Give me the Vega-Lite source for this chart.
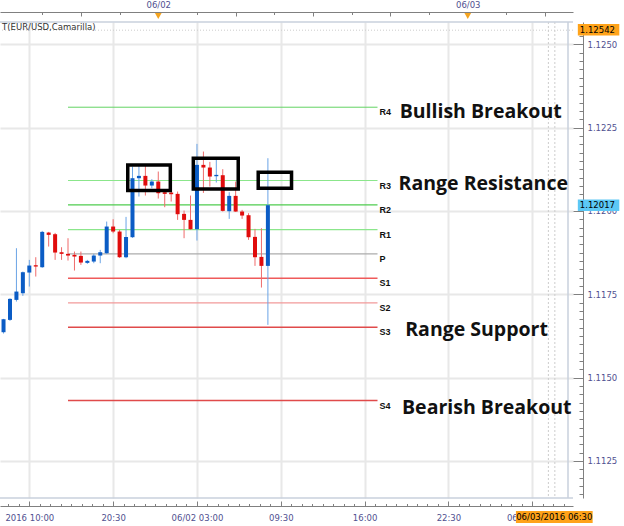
{
  "$schema": "https://vega.github.io/schema/vega-lite/v6.json",
  "width": 573,
  "height": 476,
  "autosize": {"type": "none"},
  "padding": {"left": 0, "top": 22, "right": 51, "bottom": 28},
  "background": "white",
  "config": {
    "view": {"stroke": null},
    "axis": {"labelFont": "DejaVu Sans", "labelFontSize": 8.5, "labelColor": "#505090", "domainColor": "#808080", "tickColor": "#808080", "labelOverlap": false, "labelFlush": false}
  },
  "resolve": {"axis": {"x": "independent", "y": "independent"}},
  "datasets": {
    "candles": [
      {"t": "2016-06-01T12:00:00Z", "o": 1.11636, "h": 1.11676, "l": 1.11632, "c": 1.11675},
      {"t": "2016-06-01T12:30:00Z", "o": 1.11673, "h": 1.11738, "l": 1.11670, "c": 1.11736},
      {"t": "2016-06-01T13:00:00Z", "o": 1.11733, "h": 1.11888, "l": 1.11728, "c": 1.11758},
      {"t": "2016-06-01T13:30:00Z", "o": 1.11753, "h": 1.11818, "l": 1.11745, "c": 1.11816},
      {"t": "2016-06-01T14:00:00Z", "o": 1.11815, "h": 1.11853, "l": 1.11773, "c": 1.11836},
      {"t": "2016-06-01T14:30:00Z", "o": 1.11837, "h": 1.11861, "l": 1.11803, "c": 1.11833},
      {"t": "2016-06-01T15:00:00Z", "o": 1.11831, "h": 1.11940, "l": 1.11829, "c": 1.11937},
      {"t": "2016-06-01T15:30:00Z", "o": 1.11935, "h": 1.11937, "l": 1.11893, "c": 1.11928},
      {"t": "2016-06-01T16:00:00Z", "o": 1.11930, "h": 1.11934, "l": 1.11853, "c": 1.11875},
      {"t": "2016-06-01T16:30:00Z", "o": 1.11876, "h": 1.11891, "l": 1.11853, "c": 1.11871},
      {"t": "2016-06-01T17:00:00Z", "o": 1.11871, "h": 1.11918, "l": 1.11851, "c": 1.11866},
      {"t": "2016-06-01T17:30:00Z", "o": 1.11868, "h": 1.11878, "l": 1.11821, "c": 1.11863},
      {"t": "2016-06-01T18:00:00Z", "o": 1.11865, "h": 1.11878, "l": 1.11838, "c": 1.11845},
      {"t": "2016-06-01T18:30:00Z", "o": 1.11844, "h": 1.11853, "l": 1.11841, "c": 1.11850},
      {"t": "2016-06-01T19:00:00Z", "o": 1.11848, "h": 1.11871, "l": 1.11843, "c": 1.11866},
      {"t": "2016-06-01T19:30:00Z", "o": 1.11866, "h": 1.11883, "l": 1.11843, "c": 1.11876},
      {"t": "2016-06-01T20:00:00Z", "o": 1.11873, "h": 1.11968, "l": 1.11871, "c": 1.11953},
      {"t": "2016-06-01T20:30:00Z", "o": 1.11953, "h": 1.11975, "l": 1.11933, "c": 1.11938},
      {"t": "2016-06-01T21:00:00Z", "o": 1.11938, "h": 1.11943, "l": 1.11859, "c": 1.11861},
      {"t": "2016-06-01T21:30:00Z", "o": 1.11861, "h": 1.11982, "l": 1.11858, "c": 1.11922},
      {"t": "2016-06-01T22:00:00Z", "o": 1.11921, "h": 1.12133, "l": 1.11919, "c": 1.12098},
      {"t": "2016-06-01T22:30:00Z", "o": 1.12098, "h": 1.12135, "l": 1.12043, "c": 1.12105},
      {"t": "2016-06-01T23:00:00Z", "o": 1.12105, "h": 1.12135, "l": 1.12046, "c": 1.12076},
      {"t": "2016-06-01T23:30:00Z", "o": 1.12076, "h": 1.12095, "l": 1.12068, "c": 1.12088},
      {"t": "2016-06-02T00:00:00Z", "o": 1.12088, "h": 1.12118, "l": 1.12037, "c": 1.12053},
      {"t": "2016-06-02T00:30:00Z", "o": 1.12056, "h": 1.12063, "l": 1.12011, "c": 1.12051},
      {"t": "2016-06-02T01:00:00Z", "o": 1.12055, "h": 1.12058, "l": 1.12028, "c": 1.12050},
      {"t": "2016-06-02T01:30:00Z", "o": 1.12051, "h": 1.12058, "l": 1.11973, "c": 1.11990},
      {"t": "2016-06-02T02:00:00Z", "o": 1.11991, "h": 1.12001, "l": 1.11918, "c": 1.11973},
      {"t": "2016-06-02T02:30:00Z", "o": 1.11973, "h": 1.12046, "l": 1.11943, "c": 1.11945},
      {"t": "2016-06-02T03:00:00Z", "o": 1.11945, "h": 1.12201, "l": 1.11911, "c": 1.12138},
      {"t": "2016-06-02T03:30:00Z", "o": 1.12138, "h": 1.12178, "l": 1.12054, "c": 1.12130},
      {"t": "2016-06-02T04:00:00Z", "o": 1.12130, "h": 1.12147, "l": 1.12073, "c": 1.12103},
      {"t": "2016-06-02T04:30:00Z", "o": 1.12104, "h": 1.12153, "l": 1.12085, "c": 1.12108},
      {"t": "2016-06-02T05:00:00Z", "o": 1.12107, "h": 1.12125, "l": 1.11998, "c": 1.12000},
      {"t": "2016-06-02T05:30:00Z", "o": 1.11999, "h": 1.12056, "l": 1.11976, "c": 1.12045},
      {"t": "2016-06-02T06:00:00Z", "o": 1.12045, "h": 1.12088, "l": 1.11997, "c": 1.11998},
      {"t": "2016-06-02T06:30:00Z", "o": 1.11998, "h": 1.12003, "l": 1.11976, "c": 1.11986},
      {"t": "2016-06-02T07:00:00Z", "o": 1.11987, "h": 1.11993, "l": 1.11913, "c": 1.11921},
      {"t": "2016-06-02T07:30:00Z", "o": 1.11922, "h": 1.11946, "l": 1.11835, "c": 1.11861},
      {"t": "2016-06-02T08:00:00Z", "o": 1.11862, "h": 1.11948, "l": 1.11770, "c": 1.11835},
      {"t": "2016-06-02T08:30:00Z", "o": 1.11835, "h": 1.12158, "l": 1.11658, "c": 1.12017}
    ],
    "pivots": [
      {"level": "R4", "p": 1.12311, "t1": "2016-06-01T17:00:00Z", "t2": "2016-06-02T17:00:00Z"},
      {"level": "R3", "p": 1.12091, "t1": "2016-06-01T17:00:00Z", "t2": "2016-06-02T17:00:00Z"},
      {"level": "R2", "p": 1.12018, "t1": "2016-06-01T17:00:00Z", "t2": "2016-06-02T17:00:00Z"},
      {"level": "R1", "p": 1.11944, "t1": "2016-06-01T17:00:00Z", "t2": "2016-06-02T17:00:00Z"},
      {"level": "P", "p": 1.11871, "t1": "2016-06-01T17:00:00Z", "t2": "2016-06-02T17:00:00Z"},
      {"level": "S1", "p": 1.11798, "t1": "2016-06-01T17:00:00Z", "t2": "2016-06-02T17:00:00Z"},
      {"level": "S2", "p": 1.11724, "t1": "2016-06-01T17:00:00Z", "t2": "2016-06-02T17:00:00Z"},
      {"level": "S3", "p": 1.11651, "t1": "2016-06-01T17:00:00Z", "t2": "2016-06-02T17:00:00Z"},
      {"level": "S4", "p": 1.11431, "t1": "2016-06-01T17:00:00Z", "t2": "2016-06-02T17:00:00Z"}
    ]
  },
  "layer": [
    {
      "data": {"values": [{"p": 1.12542}]},
      "mark": {"type": "rule", "color": "#cccccc", "strokeDash": [1, 2], "strokeWidth": 1},
      "encoding": {
        "y": {"field": "p", "type": "quantitative", "scale": {"domain": [1.111387, 1.125666], "zero": false, "nice": false}, "axis": null}
      }
    },
    {
      "data": {"values": [{"t": "2016-06-03T06:15:00Z"}, {"t": "2016-06-03T06:45:00Z"}]},
      "mark": {"type": "rule", "color": "#cccccc", "strokeDash": [2, 2], "strokeWidth": 1},
      "encoding": {
        "x": {"field": "t", "type": "temporal", "scale": {"type": "utc", "domain": [1464782811000, 1464939977000]}, "axis": null}
      }
    },
    {
      "data": {"values": [{"p": 1.125666}, {"p": 1.111387}]},
      "mark": {"type": "rule", "color": "#c8d0dc", "strokeWidth": 1.5},
      "encoding": {
        "y": {"field": "p", "type": "quantitative", "scale": {"domain": [1.111387, 1.125666], "zero": false, "nice": false}, "axis": null}
      }
    },
    {
      "data": {"values": [{"t": 1464939977000}]},
      "mark": {"type": "rule", "color": "#c8d0dc", "strokeWidth": 1.5},
      "encoding": {
        "x": {"field": "t", "type": "temporal", "scale": {"type": "utc", "domain": [1464782811000, 1464939977000]}, "axis": null}
      }
    },
    {
      "data": {"name": "pivots"},
      "mark": {"type": "rule"},
      "encoding": {
        "x": {"field": "t1", "type": "temporal", "scale": {"type": "utc", "domain": [1464782811000, 1464939977000]}, "axis": null},
        "x2": {"field": "t2"},
        "y": {"field": "p", "type": "quantitative", "scale": {"domain": [1.111387, 1.125666], "zero": false, "nice": false}, "axis": null},
        "color": {"field": "level", "type": "nominal", "legend": null,
          "scale": {"domain": ["R4", "R3", "R2", "R1", "P", "S1", "S2", "S3", "S4"],
                    "range": ["#62d462", "#8be68b", "#4fcc4f", "#8be68b", "#acacac", "#ef5a5a", "#f29a9a", "#e04a4a", "#e04a4a"]}},
        "strokeWidth": {"field": "level", "type": "ordinal", "legend": null,
          "scale": {"domain": ["R4", "R3", "R2", "R1", "P", "S1", "S2", "S3", "S4"],
                    "range": [1, 1.6, 1, 1.6, 1.4, 1, 1.6, 1, 1]}}
      }
    },
    {
      "data": {"name": "candles"},
      "mark": {"type": "rule", "strokeWidth": 1},
      "encoding": {
        "x": {"field": "t", "type": "temporal", "scale": {"type": "utc", "domain": [1464782811000, 1464939977000]},
          "axis": {"orient": "bottom", "offset": 8, "title": null,
            "values": [1464789600000, 1464813000000, 1464836400000, 1464859800000, 1464883200000, 1464906600000, 1464930000000],
            "labelExpr": "datum.value < 1464790000000 ? '2016 10:00' : ((utchours(datum.value) == 3 || datum.value > 1464920000000) ? utcFormat(datum.value, '%m/%d %H:%M') : utcFormat(datum.value, '%H:%M'))",
            "tickSize": -5, "labelPadding": 12, "grid": true, "gridColor": "#e8e8e8", "gridWidth": 2}},
        "y": {"field": "l", "type": "quantitative", "scale": {"domain": [1.111387, 1.125666], "zero": false, "nice": false},
          "axis": {"orient": "right", "offset": 10, "title": null,
            "values": [1.1125, 1.115, 1.1175, 1.12, 1.1225, 1.125], "format": ".4f",
            "tickSize": -10, "labelPadding": 14, "labelBaseline": "middle", "grid": true, "gridColor": "#e8e8e8", "gridWidth": 2}},
        "y2": {"field": "h"},
        "color": {"condition": {"test": "datum.c >= datum.o", "value": "#6aa4e6"}, "value": "#ef6b6b"}
      }
    },
    {
      "data": {"name": "candles"},
      "mark": {"type": "bar", "size": 4},
      "encoding": {
        "x": {"field": "t", "type": "temporal", "scale": {"type": "utc", "domain": [1464782811000, 1464939977000]},
          "axis": {"orient": "bottom", "offset": 8, "title": null, "labels": false, "domain": false, "grid": false, "tickSize": -2.5,
            "values": [1464783750000, 1464786675000, 1464789600000, 1464792525000, 1464795450000, 1464798375000, 1464801300000, 1464804225000, 1464807150000, 1464810075000, 1464813000000, 1464815925000, 1464818850000, 1464821775000, 1464824700000, 1464827625000, 1464830550000, 1464833475000, 1464836400000, 1464839325000, 1464842250000, 1464845175000, 1464848100000, 1464851025000, 1464853950000, 1464856875000, 1464859800000, 1464862725000, 1464865650000, 1464868575000, 1464871500000, 1464874425000, 1464877350000, 1464880275000, 1464883200000, 1464886125000, 1464889050000, 1464891975000, 1464894900000, 1464897825000, 1464900750000, 1464903675000, 1464906600000, 1464909525000, 1464912450000, 1464915375000, 1464918300000, 1464921225000, 1464924150000, 1464927075000, 1464930000000, 1464932925000, 1464935850000, 1464938775000]}},
        "y": {"field": "o", "type": "quantitative", "scale": {"domain": [1.111387, 1.125666], "zero": false, "nice": false},
          "axis": {"orient": "right", "offset": 10, "title": null, "labels": false, "domain": false, "grid": false, "tickSize": -4,
            "values": [1.1115, 1.11175, 1.112, 1.11225, 1.1125, 1.11275, 1.113, 1.11325, 1.1135, 1.11375, 1.114, 1.11425, 1.1145, 1.11475, 1.115, 1.11525, 1.1155, 1.11575, 1.116, 1.11625, 1.1165, 1.11675, 1.117, 1.11725, 1.1175, 1.11775, 1.118, 1.11825, 1.1185, 1.11875, 1.119, 1.11925, 1.1195, 1.11975, 1.12, 1.12025, 1.1205, 1.12075, 1.121, 1.12125, 1.1215, 1.12175, 1.122, 1.12225, 1.1225, 1.12275, 1.123, 1.12325, 1.1235, 1.12375, 1.124, 1.12425, 1.1245, 1.12475, 1.125, 1.12525, 1.1255]}},
        "y2": {"field": "c"},
        "color": {"condition": {"test": "datum.c >= datum.o", "value": "#0b5cc5"}, "value": "#e00c0c"}
      }
    },
    {
      "data": {"name": "pivots"},
      "mark": {"type": "text", "align": "left", "baseline": "top", "dx": 2, "dy": 1, "font": "Liberation Sans", "fontWeight": "bold", "fontSize": 9, "color": "#111111"},
      "encoding": {
        "x": {"field": "t2", "type": "temporal", "scale": {"type": "utc", "domain": [1464782811000, 1464939977000]},
          "axis": {"orient": "top", "offset": 10, "title": null, "grid": false,
            "values": [1464804000000, 1464825600000, 1464847200000, 1464868800000, 1464890400000, 1464912000000, 1464933600000],
            "labelExpr": "utchours(datum.value) == 0 ? utcFormat(datum.value, '%m/%d') : ''",
            "tickSize": -4, "labelPadding": 7}},
        "y": {"field": "p", "type": "quantitative", "scale": {"domain": [1.111387, 1.125666], "zero": false, "nice": false}, "axis": null},
        "text": {"field": "level"}
      }
    },
    {
      "data": {"values": [
        {"t1": "2016-06-01T21:38:00Z", "t2": "2016-06-02T00:56:00Z", "p1": 1.12138, "p2": 1.12061},
        {"t1": "2016-06-02T02:43:00Z", "t2": "2016-06-02T06:12:00Z", "p1": 1.12158, "p2": 1.12066},
        {"t1": "2016-06-02T07:45:00Z", "t2": "2016-06-02T10:20:00Z", "p1": 1.12116, "p2": 1.12068}
      ]},
      "mark": {"type": "rect", "filled": false, "stroke": "#000000", "strokeWidth": 3.5},
      "encoding": {
        "x": {"field": "t1", "type": "temporal", "scale": {"type": "utc", "domain": [1464782811000, 1464939977000]},
          "axis": {"orient": "top", "offset": 10, "title": null, "labels": false, "domain": false, "grid": false, "tickSize": -2.5,
            "values": [1464793200000, 1464814800000, 1464836400000, 1464858000000, 1464879600000, 1464901200000, 1464922800000]}},
        "x2": {"field": "t2"},
        "y": {"field": "p1", "type": "quantitative", "scale": {"domain": [1.111387, 1.125666], "zero": false, "nice": false}, "axis": null},
        "y2": {"field": "p2"}
      }
    },
    {
      "data": {"values": [
        {"label": "Bullish Breakout", "t": "2016-06-02T18:43:00Z", "p": 1.12280},
        {"label": "Range Resistance", "t": "2016-06-02T18:38:00Z", "p": 1.12063},
        {"label": "Range Support", "t": "2016-06-02T19:09:00Z", "p": 1.11625},
        {"label": "Bearish Breakout", "t": "2016-06-02T18:54:00Z", "p": 1.11391}
      ]},
      "mark": {"type": "text", "align": "left", "baseline": "alphabetic", "font": "Open Sans", "fontWeight": "bold", "fontSize": 19.5, "color": "#111111"},
      "encoding": {
        "x": {"field": "t", "type": "temporal", "scale": {"type": "utc", "domain": [1464782811000, 1464939977000]}, "axis": null},
        "y": {"field": "p", "type": "quantitative", "scale": {"domain": [1.111387, 1.125666], "zero": false, "nice": false}, "axis": null},
        "text": {"field": "label"}
      }
    },
    {
      "data": {"values": [{"label": "T(EUR/USD,Camarilla)", "t": "2016-06-01T11:53:09Z", "p": 1.125525}]},
      "mark": {"type": "text", "align": "left", "baseline": "middle", "font": "DejaVu Sans", "fontSize": 8.5, "color": "#333333"},
      "encoding": {
        "x": {"field": "t", "type": "temporal", "scale": {"type": "utc", "domain": [1464782811000, 1464939977000]}, "axis": null},
        "y": {"field": "p", "type": "quantitative", "scale": {"domain": [1.111387, 1.125666], "zero": false, "nice": false}, "axis": null},
        "text": {"field": "label"}
      }
    },
    {
      "data": {"values": [{"t": "2016-06-02T00:00:00Z", "p": 1.125846}, {"t": "2016-06-03T00:00:00Z", "p": 1.125846}]},
      "mark": {"type": "point", "shape": "triangle-down", "filled": true, "color": "#f5a41f", "size": 45, "opacity": 1},
      "encoding": {
        "x": {"field": "t", "type": "temporal", "scale": {"type": "utc", "domain": [1464782811000, 1464939977000]}, "axis": null},
        "y": {"field": "p", "type": "quantitative", "scale": {"domain": [1.111387, 1.125666], "zero": false, "nice": false}, "axis": null}
      }
    },
    {
      "data": {"values": [
        {"kind": "high", "label": "1.12542", "p": 1.12542, "p1": 1.125606, "p2": 1.125261, "t1": "2016-06-03T08:32:00Z", "t2": "2016-06-03T11:45:00Z"},
        {"kind": "last", "label": "1.12017", "p": 1.12017, "p1": 1.120341, "p2": 1.119996, "t1": "2016-06-03T08:32:00Z", "t2": "2016-06-03T11:45:00Z"}
      ]},
      "layer": [
        {
          "mark": {"type": "rect"},
          "encoding": {
            "x": {"field": "t1", "type": "temporal", "scale": {"type": "utc", "domain": [1464782811000, 1464939977000]}, "axis": null},
            "x2": {"field": "t2"},
            "y": {"field": "p1", "type": "quantitative", "scale": {"domain": [1.111387, 1.125666], "zero": false, "nice": false}, "axis": null},
            "y2": {"field": "p2"},
            "color": {"condition": {"test": "datum.kind == 'high'", "value": "#ffa31a"}, "value": "#5cc8f5"}
          }
        },
        {
          "mark": {"type": "text", "align": "left", "baseline": "middle", "dx": 2, "font": "DejaVu Sans", "fontSize": 8.5, "color": "#000000"},
          "encoding": {
            "x": {"field": "t1", "type": "temporal", "scale": {"type": "utc", "domain": [1464782811000, 1464939977000]}, "axis": null},
            "y": {"field": "p", "type": "quantitative", "scale": {"domain": [1.111387, 1.125666], "zero": false, "nice": false}, "axis": null},
            "text": {"field": "label"}
          }
        }
      ]
    },
    {
      "data": {"values": [
        {"label": "06/03/2016 06:30", "t": "2016-06-03T06:42:30Z", "p": 1.110817, "p1": 1.110997, "p2": 1.110637, "t1": "2016-06-03T03:44:00Z", "t2": "2016-06-03T09:41:00Z"}
      ]},
      "layer": [
        {
          "mark": {"type": "rect", "color": "#ffa31a"},
          "encoding": {
            "x": {"field": "t1", "type": "temporal", "scale": {"type": "utc", "domain": [1464782811000, 1464939977000]}, "axis": null},
            "x2": {"field": "t2"},
            "y": {"field": "p1", "type": "quantitative", "scale": {"domain": [1.111387, 1.125666], "zero": false, "nice": false}, "axis": null},
            "y2": {"field": "p2"}
          }
        },
        {
          "mark": {"type": "text", "align": "center", "baseline": "middle", "font": "DejaVu Sans", "fontSize": 8.5, "color": "#000000"},
          "encoding": {
            "x": {"field": "t", "type": "temporal", "scale": {"type": "utc", "domain": [1464782811000, 1464939977000]}, "axis": null},
            "y": {"field": "p", "type": "quantitative", "scale": {"domain": [1.111387, 1.125666], "zero": false, "nice": false}, "axis": null},
            "text": {"field": "label"}
          }
        }
      ]
    }
  ]
}
